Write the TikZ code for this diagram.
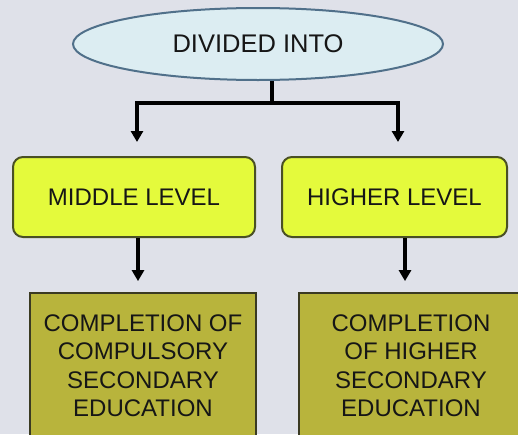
\documentclass[tikz,border=0pt]{standalone}
\usepackage{fontspec}
\setmainfont{Liberation Sans}
\usetikzlibrary{shapes.geometric,arrows.meta}
\definecolor{bgc}{HTML}{DFE1E9}
\definecolor{ellfill}{HTML}{DCEDF2}
\definecolor{elldraw}{HTML}{50708A}
\definecolor{yfill}{HTML}{E4FA3C}
\definecolor{ydraw}{HTML}{4A5024}
\definecolor{ofill}{HTML}{B8B43C}
\definecolor{odraw}{HTML}{3A3A22}
\definecolor{txt}{HTML}{161616}
\tikzset{
  ovalbox/.style={ellipse, draw=elldraw, line width=2pt, fill=ellfill, minimum width=370pt, minimum height=72pt, inner sep=0pt, text=txt, font=\fontsize{25.5}{28}\selectfont},
  levelbox/.style={rectangle, rounded corners=10pt, draw=ydraw, line width=2pt, fill=yfill, minimum height=80pt, inner sep=0pt, text=txt, font=\fontsize{24}{28}\selectfont},
  resultbox/.style={rectangle, draw=odraw, line width=1.8pt, fill=ofill, minimum height=145pt, inner sep=0pt, align=center, text=txt, font=\fontsize{24}{28.5}\selectfont},
  conn/.style={line width=3.6pt, draw=black},
  arr/.style={conn, -{Triangle[width=12pt,length=11pt]}},
}
\begin{document}
\begin{tikzpicture}[x=1pt,y=-1pt]
\fill[bgc] (0,0) rectangle (518,434);
\useasboundingbox (0,0) rectangle (518,434);
\clip (0,0) rectangle (518,434);
\node[ovalbox] (top) at (258,44) {DIVIDED INTO};
\node[levelbox, minimum width=242pt] (mid) at (134,197) {MIDDLE LEVEL};
\node[levelbox, minimum width=225pt] (high) at (394.5,197) {HIGHER LEVEL};
\node[resultbox, minimum width=226pt] (comp) at (143,365.5) {COMPLETION OF\\COMPULSORY\\SECONDARY\\EDUCATION};
\node[resultbox, minimum width=224pt] (hsec) at (411,365.5) {COMPLETION\\OF HIGHER\\SECONDARY\\EDUCATION};
\coordinate (split) at (272,103);
\draw[conn] ([xshift=14pt]top.south) -- (split);
\draw[arr, shorten >=14pt] (split) -| ([xshift=3pt]mid.north);
\draw[arr, shorten >=14pt] (split) -| ([xshift=3.5pt]high.north);
\draw[arr, shorten >=11pt] ([xshift=4pt]mid.south) -- ([xshift=4pt]mid.south |- comp.north);
\draw[arr, shorten >=11pt] ([xshift=10.5pt]high.south) -- ([xshift=10.5pt]high.south |- hsec.north);
\end{tikzpicture}
\end{document}
